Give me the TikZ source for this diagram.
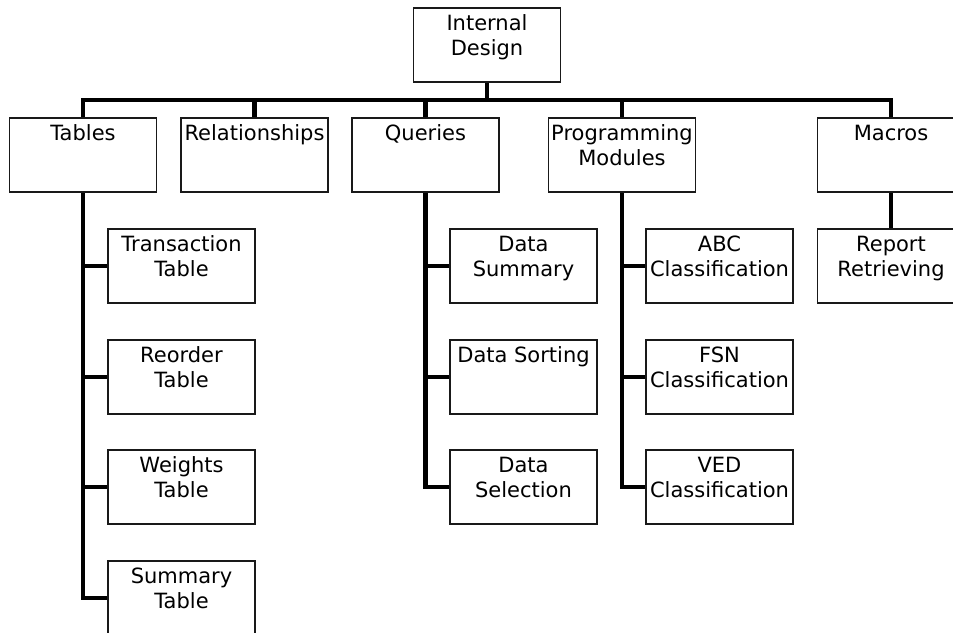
\documentclass[tikz,border=0pt]{standalone}
\usepackage{fontspec}
\setmainfont{DejaVu Sans}
\usetikzlibrary{backgrounds}
\begin{document}
\begin{tikzpicture}[x=1pt,y=-1pt,
  box/.style={draw=black!90, fill=white, line width=1.5pt, minimum width=147pt, minimum height=74pt, inner sep=0pt, outer sep=0pt, anchor=north},
  lbl/.style={anchor=north, inner sep=0pt, align=center, font=\fontsize{21}{25}\selectfont, text=black},
  conn/.style={line width=4.8pt, line cap=rect, line join=miter, black}]
\useasboundingbox (0,0) rectangle (953,632);
\clip (0,0) rectangle (953,632);
\newcommand\mkbox[4]{%
  \node[box] (#1) at (#2,#3) {};
  \node[lbl] (#1-t) at (#1.north) {\rule{0pt}{22.7pt}#4};}
% root
\mkbox{root}{487}{8}{Internal\\Design}
% level 1
\mkbox{tab}{83}{118}{Tables}
\mkbox{rel}{254.5}{118}{Relationships}
\mkbox{que}{425.5}{118}{Queries}
\mkbox{prg}{622}{118}{Programming\\Modules}
\mkbox{mac}{891}{118}{Macros}
% tables children
\mkbox{tt}{181.5}{229}{Transaction\\Table}
\mkbox{rt}{181.5}{340}{Reorder\\Table}
\mkbox{wt}{181.5}{450}{Weights\\Table}
\mkbox{st}{181.5}{561}{Summary\\Table}
% queries children
\mkbox{ds}{523.5}{229}{Data\\Summary}
\mkbox{dso}{523.5}{340}{Data Sorting}
\mkbox{dse}{523.5}{450}{Data\\Selection}
% programming children
\mkbox{abc}{719.5}{229}{ABC\\Classification}
\mkbox{fsn}{719.5}{340}{FSN\\Classification}
\mkbox{ved}{719.5}{450}{VED\\Classification}
% macros child
\mkbox{rep}{891}{229}{Report\\Retrieving}
% connectors
\begin{pgfonlayer}{background}
\coordinate (bar) at (0,100);
\draw[conn] (root.south) -- (root.south |- bar);
\draw[conn] (tab.north |- bar) -- (mac.north |- bar);
\foreach \n in {tab,rel,que,prg,mac}
  \draw[conn] (\n.north |- bar) -- (\n.north);
\draw[conn] (mac.south) -- (rep.north);
\draw[conn] (tab.south) -- (tab.south |- st.west) -- (st.west);
\foreach \n in {tt,rt,wt}
  \draw[conn] (tab.south |- \n.west) -- (\n.west);
\draw[conn] (que.south) -- (que.south |- dse.west) -- (dse.west);
\foreach \n in {ds,dso}
  \draw[conn] (que.south |- \n.west) -- (\n.west);
\draw[conn] (prg.south) -- (prg.south |- ved.west) -- (ved.west);
\foreach \n in {abc,fsn}
  \draw[conn] (prg.south |- \n.west) -- (\n.west);
\end{pgfonlayer}
\end{tikzpicture}
\end{document}
